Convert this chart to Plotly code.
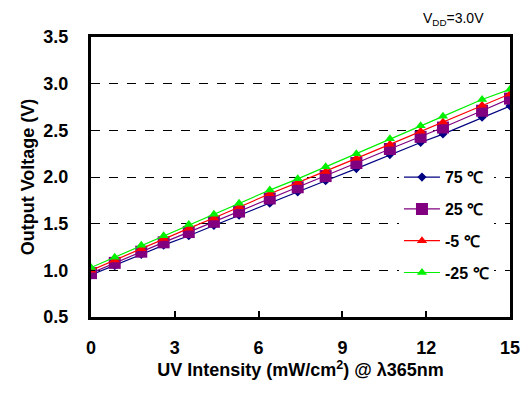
import plotly.graph_objects as go

# UV intensity (mW/cm^2)
uv = [0, 0.85, 1.8, 2.6, 3.5, 4.4, 5.3, 6.4, 7.4, 8.4, 9.5, 10.7, 11.8, 12.6, 14.0, 15.0]

# Output voltage (V) per temperature
v_75 = [0.95, 1.05, 1.17, 1.27, 1.37, 1.48, 1.59, 1.72, 1.84, 1.96, 2.09, 2.24, 2.37, 2.46, 2.64, 2.76]
v_25 = [0.97, 1.08, 1.20, 1.30, 1.41, 1.52, 1.63, 1.77, 1.89, 2.01, 2.15, 2.30, 2.43, 2.53, 2.71, 2.84]
v_m5 = [1.00, 1.11, 1.23, 1.34, 1.45, 1.56, 1.68, 1.82, 1.94, 2.06, 2.20, 2.35, 2.49, 2.59, 2.77, 2.89]
v_m25 = [1.03, 1.14, 1.27, 1.37, 1.49, 1.60, 1.72, 1.86, 1.98, 2.11, 2.25, 2.41, 2.55, 2.65, 2.83, 2.94]

series_names = ["75 ℃", "25 ℃", "-5 ℃", "-25 ℃"]
x_ticks = [0, 3, 6, 9, 12, 15]
y_ticks = [0.5, 1.0, 1.5, 2.0, 2.5, 3.0, 3.5]

FONT = "Liberation Sans, Arial, sans-serif"

styles = [
    dict(color="#000080", symbol="diamond", size=7),
    dict(color="#800080", symbol="square", size=12),
    dict(color="#FF0000", symbol="triangle-up", size=9),
    dict(color="#00F000", symbol="triangle-up", size=9),
]

fig = go.Figure()
for i, (name, ys) in enumerate(zip(series_names, [v_75, v_25, v_m5, v_m25])):
    st = styles[i]
    fig.add_trace(go.Scatter(
        x=uv, y=ys, name=name, mode="lines+markers",
        legendgroup=str(i),
        line=dict(color=st["color"], width=1.2),
        marker=dict(color=st["color"], symbol=st["symbol"], size=st["size"]),
    ))

fig.update_layout(
    width=524, height=385,
    margin=dict(l=83, r=20, t=29, b=76),
    paper_bgcolor="white", plot_bgcolor="white",
    font=dict(family=FONT, color="black"),
    showlegend=True,
    legend=dict(
        x=0.735, y=0.56, xanchor="left", yanchor="top",
        bgcolor="white", borderwidth=0,
        font=dict(family=FONT, size=16, color="black", weight="bold"),
        tracegroupgap=8,
        traceorder="grouped",
        itemwidth=36,
    ),
    xaxis=dict(
        range=[0, 15], tickvals=x_ticks,
        ticktext=[str(v) for v in x_ticks],
        showgrid=False, zeroline=False,
        showline=True, linecolor="black", linewidth=3, mirror=True,
        ticks="inside", ticklen=6, tickwidth=1.5, tickcolor="black",
        tickfont=dict(family=FONT, size=18, color="black", weight="bold"),
        ticklabelstandoff=12,
        title=dict(text="UV Intensity (mW/cm<sup>2</sup>) @ λ365nm",
                   font=dict(family=FONT, size=18, color="black", weight="bold"),
                   standoff=6),
    ),
    yaxis=dict(
        range=[0.5, 3.5], tickvals=y_ticks,
        ticktext=[f"{v:.1f}" for v in y_ticks],
        showgrid=True, gridcolor="black", gridwidth=1, griddash="dash",
        zeroline=False,
        showline=True, linecolor="black", linewidth=3, mirror=True,
        ticks="inside", ticklen=4, tickwidth=1, tickcolor="black",
        tickfont=dict(family=FONT, size=18, color="black", weight="bold"),
        ticklabelstandoff=16,
        title=dict(text="Output Voltage (V)",
                   font=dict(family=FONT, size=18, color="black", weight="bold"),
                   standoff=5),
    ),
    annotations=[dict(
        text="V<sub>DD</sub>=3.0V", xref="paper", yref="paper",
        x=0.866, y=1.065, xanchor="center", yanchor="middle",
        showarrow=False, font=dict(family=FONT, size=14, color="black"),
    )],
)

fig.write_html("out.html")
